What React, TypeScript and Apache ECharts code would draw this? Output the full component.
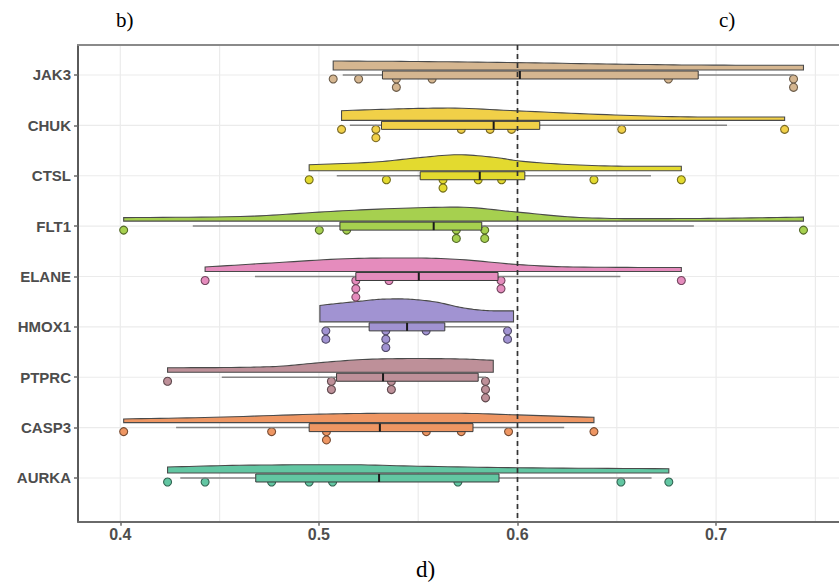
import React, { useEffect, useRef } from "react";
import * as echarts from "echarts";

// Genes from bottom (index 0) to top (index 8)
const genes = ["AURKA", "CASP3", "PTPRC", "HMOX1", "ELANE", "FLT1", "CTSL", "CHUK", "JAK3"];
const geneColors = ["#62C6A2", "#EE9663", "#BE9099", "#A193D2", "#E58CBD", "#A6D04F", "#E3DA2F", "#F1D048", "#D5B690"];

// Individual sample values (dots)
const pointsAURKA = [0.4238, 0.4427, 0.4762, 0.4951, 0.5069, 0.5700, 0.6521, 0.6762];
const pointsCASP3 = [0.4017, 0.4762, 0.5038, 0.5038, 0.5541, 0.5717, 0.5955, 0.6385];
const pointsPTPRC = [0.4238, 0.5063, 0.5063, 0.5365, 0.5365, 0.5839, 0.5839, 0.5839];
const pointsHMOX1 = [0.5035, 0.5035, 0.5337, 0.5337, 0.5337, 0.5540, 0.5950, 0.5950];
const pointsELANE = [0.4427, 0.5186, 0.5186, 0.5186, 0.5353, 0.5917, 0.5917, 0.6825];
const pointsFLT1 = [0.4017, 0.5002, 0.5140, 0.5692, 0.5692, 0.5835, 0.5835, 0.7440];
const pointsCTSL = [0.4951, 0.5340, 0.5625, 0.5625, 0.5802, 0.5920, 0.6385, 0.6825];
const pointsCHUK = [0.5114, 0.5287, 0.5287, 0.5717, 0.5862, 0.5970, 0.6525, 0.7345];
const pointsJAK3 = [0.5072, 0.5200, 0.5390, 0.5390, 0.5570, 0.6760, 0.7390, 0.7390];
const points = [pointsAURKA, pointsCASP3, pointsPTPRC, pointsHMOX1, pointsELANE, pointsFLT1, pointsCTSL, pointsCHUK, pointsJAK3];

// Box plot statistics
const whiskerLow = [0.4302, 0.4281, 0.4511, 0.5030, 0.4678, 0.4365, 0.5090, 0.5156, 0.5120];
const quartile1 = [0.4682, 0.4951, 0.5089, 0.5253, 0.5186, 0.5106, 0.5510, 0.5315, 0.5320];
const medians = [0.5303, 0.5307, 0.5323, 0.5444, 0.5503, 0.5578, 0.5810, 0.5880, 0.6012];
const quartile3 = [0.5907, 0.5776, 0.5802, 0.5634, 0.5902, 0.5820, 0.6037, 0.6112, 0.6910];
const whiskerHigh = [0.6675, 0.6235, 0.5840, 0.5953, 0.6518, 0.6888, 0.6672, 0.7055, 0.7390];

// Half-violin density profiles (x positions, relative density)
const densX = [
  [0.4238, 0.4600, 0.5140, 0.5500, 0.6000, 0.6762],
  [0.4017, 0.4470, 0.4970, 0.5310, 0.5710, 0.6000, 0.6385],
  [0.4238, 0.4640, 0.4800, 0.5000, 0.5220, 0.5470, 0.5710, 0.5878],
  [0.5005, 0.5100, 0.5200, 0.5300, 0.5400, 0.5500, 0.5600, 0.5700, 0.5800, 0.5900, 0.5980],
  [0.4427, 0.4800, 0.5170, 0.5470, 0.5710, 0.6000, 0.6280, 0.6825],
  [0.4017, 0.4670, 0.5000, 0.5300, 0.5700, 0.6000, 0.6280, 0.6600, 0.7000, 0.7440],
  [0.4951, 0.5300, 0.5500, 0.5700, 0.5900, 0.6000, 0.6280, 0.6600, 0.6825],
  [0.5114, 0.5400, 0.5650, 0.6000, 0.6450, 0.6860, 0.7345],
  [0.5072, 0.5500, 0.6000, 0.6450, 0.6870, 0.7440],
];
const densY = [
  [6.0, 7.7, 8.3, 6.8, 5.3, 4.3],
  [3.7, 5.3, 8.3, 9.3, 9.3, 7.7, 5.3],
  [4.5, 5.0, 6.0, 9.5, 12.7, 13.7, 13.3, 12.0],
  [16.5, 18.5, 20.5, 22.5, 23.0, 22.0, 19.5, 15.0, 12.0, 11.0, 11.0],
  [4.5, 9.0, 13.0, 13.5, 12.0, 7.0, 4.5, 4.0],
  [3.5, 5.0, 9.0, 12.0, 14.0, 9.0, 4.0, 2.5, 2.8, 4.0],
  [6.0, 9.0, 13.0, 16.0, 13.0, 10.0, 6.0, 4.5, 4.5],
  [9.7, 11.5, 12.3, 9.5, 5.7, 3.5, 3.3],
  [9.0, 8.5, 7.4, 6.0, 5.0, 4.7],
];

const xTicks = [0.4, 0.5, 0.6, 0.7];
const xGridValues = [0.4, 0.45, 0.5, 0.55, 0.6, 0.65, 0.7, 0.75];
const referenceLine = 0.6;
const panelLabels = ["b)", "c)", "d)"];

// Layout constants (pixels / axis extents)
const X_MIN = 0.3787;
const X_MAX = 0.76491;
const Y_MIN = -0.8675;
const Y_MAX = 8.5955;
const VIOLIN_GAP = 5;
const BOX_HALF = 4;
const POINT_OFFSET = 4;
const STACK_STEP = 8.3;
const POINT_R = 4;

function darken(hex: string, f: number): string {
  const n = parseInt(hex.slice(1), 16);
  const r = Math.round(((n >> 16) & 255) * f);
  const g = Math.round(((n >> 8) & 255) * f);
  const b = Math.round((n & 255) * f);
  return `rgb(${r},${g},${b})`;
}

function smoothTop(pts: number[][], samples = 10): number[][] {
  const n = pts.length;
  if (n < 3) return pts;
  const xs = pts.map((p) => p[0]);
  const ys = pts.map((p) => p[1]);
  const d: number[] = [];
  const m: number[] = new Array(n).fill(0);
  for (let k = 0; k < n - 1; k++) d.push((ys[k + 1] - ys[k]) / (xs[k + 1] - xs[k] || 1));
  m[0] = d[0];
  m[n - 1] = d[n - 2];
  for (let k = 1; k < n - 1; k++) m[k] = d[k - 1] * d[k] <= 0 ? 0 : (d[k - 1] + d[k]) / 2;
  for (let k = 0; k < n - 1; k++) {
    if (d[k] === 0) {
      m[k] = 0;
      m[k + 1] = 0;
    } else {
      const a = m[k] / d[k];
      const b = m[k + 1] / d[k];
      const s = a * a + b * b;
      if (s > 9) {
        const t = 3 / Math.sqrt(s);
        m[k] = t * a * d[k];
        m[k + 1] = t * b * d[k];
      }
    }
  }
  const out: number[][] = [];
  for (let k = 0; k < n - 1; k++) {
    const h = xs[k + 1] - xs[k];
    for (let j = 0; j < samples; j++) {
      const t = j / samples;
      const t2 = t * t;
      const t3 = t2 * t;
      const h00 = 2 * t3 - 3 * t2 + 1;
      const h10 = t3 - 2 * t2 + t;
      const h01 = -2 * t3 + 3 * t2;
      const h11 = t3 - t2;
      out.push([xs[k] + t * h, h00 * ys[k] + h10 * h * m[k] + h01 * ys[k + 1] + h11 * h * m[k + 1]]);
    }
  }
  out.push([xs[n - 1], ys[n - 1]]);
  return out;
}

export default function App() {
  const ref = useRef<HTMLDivElement>(null);

  useEffect(() => {
    if (!ref.current) return;
    const chart = echarts.init(ref.current, null, { renderer: "svg" });

    const pointData: number[][] = [];
    points.forEach((vals, gi) => {
      const seen: Record<string, number> = {};
      vals.forEach((v) => {
        const key = v.toFixed(4);
        const s = seen[key] || 0;
        seen[key] = s + 1;
        pointData.push([v, gi, s]);
      });
    });

    const geneRows = genes.map((_, i) => [medians[i], i]);

    const option: any = {
      animation: false,
      grid: { left: 78, right: -6, top: 45, bottom: 63.3, containLabel: false, outerBoundsMode: "none" },
      xAxis: [
        {
          type: "value",
          min: X_MIN,
          max: X_MAX,
          position: "bottom",
          axisLine: { show: true, onZero: false, lineStyle: { color: "#6a6a6a", width: 2 } },
          axisTick: { show: true, customValues: xTicks, length: 4, lineStyle: { color: "#6a6a6a", width: 1.5 } },
          axisLabel: {
            customValues: xTicks,
            formatter: (v: number) => v.toFixed(1),
            color: "#4d4d4d",
            fontWeight: "bold",
            fontSize: 16,
            fontFamily: "Liberation Sans, Arial, sans-serif",
            margin: 5,
          },
          splitLine: { show: false },
        },
        {
          type: "value",
          min: X_MIN,
          max: X_MAX,
          position: "top",
          axisLine: { show: true, onZero: false, lineStyle: { color: "#8a8a8a", width: 2 } },
          axisTick: { show: false },
          axisLabel: { show: false },
          splitLine: { show: false },
        },
      ],
      yAxis: {
        type: "value",
        min: Y_MIN,
        max: Y_MAX,
        axisLine: { show: true, onZero: false, lineStyle: { color: "#5a5a5a", width: 2 } },
        axisTick: { show: true, customValues: genes.map((_, i) => i), length: 4, lineStyle: { color: "#6a6a6a", width: 1.5 } },
        axisLabel: {
          customValues: genes.map((_, i) => i),
          formatter: (v: number) => genes[Math.round(v)] ?? "",
          color: "#4d4d4d",
          fontWeight: "bold",
          fontSize: 15,
          fontFamily: "Liberation Sans, Arial, sans-serif",
          margin: 7,
        },
        splitLine: { show: false },
      },
      graphic: [
        { type: "text", left: 116, top: 9, style: { text: panelLabels[0], font: "21px 'Liberation Serif', serif", fill: "#000" } },
        { type: "text", left: 719, top: 9, style: { text: panelLabels[1], font: "21px 'Liberation Serif', serif", fill: "#000" } },
        { type: "text", left: 416, top: 558, style: { text: panelLabels[2], font: "23px 'Liberation Serif', serif", fill: "#000" } },
      ],
      series: [
        {
          type: "custom",
          name: "vgrid",
          silent: true,
          z: 0,
          data: xGridValues.map((v) => [v, 0]),
          renderItem: (params: any, api: any) => {
            const cs = params.coordSys;
            const x = api.coord([api.value(0), 0])[0];
            return {
              type: "line",
              shape: { x1: x, y1: cs.y, x2: x, y2: cs.y + cs.height },
              style: { stroke: "#ebebeb", lineWidth: 1.2 },
            };
          },
        },
        {
          type: "custom",
          name: "hgrid",
          silent: true,
          z: 0,
          data: geneRows,
          renderItem: (params: any, api: any) => {
            const cs = params.coordSys;
            const y = api.coord([api.value(0), api.value(1)])[1];
            return {
              type: "line",
              shape: { x1: cs.x, y1: y, x2: cs.x + cs.width, y2: y },
              style: { stroke: "#ebebeb", lineWidth: 1.2 },
            };
          },
        },
        {
          type: "custom",
          name: "violin",
          silent: true,
          z: 2,
          data: geneRows,
          renderItem: (params: any, api: any) => {
            const i = api.value(1);
            const xs = densX[i];
            const hs = densY[i];
            const cy = api.coord([xs[0], i])[1] - VIOLIN_GAP;
            const top = xs.map((x, k) => [api.coord([x, i])[0], cy - hs[k]]);
            const sm = smoothTop(top);
            const pts = [[top[0][0], cy], ...sm, [top[top.length - 1][0], cy]];
            return {
              type: "polygon",
              shape: { points: pts },
              style: { fill: geneColors[i], stroke: "#4a4a4a", lineWidth: 1.1 },
            };
          },
        },
        {
          type: "custom",
          name: "points",
          silent: true,
          z: 3,
          data: pointData,
          renderItem: (params: any, api: any) => {
            const gi = api.value(1);
            const s = api.value(2);
            const c = api.coord([api.value(0), gi]);
            return {
              type: "circle",
              shape: { cx: c[0], cy: c[1] + POINT_OFFSET + s * STACK_STEP, r: POINT_R },
              style: { fill: geneColors[gi], stroke: darken(geneColors[gi], 0.5), lineWidth: 1.1 },
            };
          },
        },
        {
          type: "custom",
          name: "box",
          silent: true,
          z: 4,
          data: geneRows,
          renderItem: (params: any, api: any) => {
            const i = api.value(1);
            const cy = api.coord([medians[i], i])[1];
            const xwl = api.coord([whiskerLow[i], i])[0];
            const xq1 = api.coord([quartile1[i], i])[0];
            const xm = api.coord([medians[i], i])[0];
            const xq3 = api.coord([quartile3[i], i])[0];
            const xwh = api.coord([whiskerHigh[i], i])[0];
            return {
              type: "group",
              children: [
                { type: "line", shape: { x1: xwl, y1: cy, x2: xq1, y2: cy }, style: { stroke: "#858585", lineWidth: 1.5 } },
                { type: "line", shape: { x1: xq3, y1: cy, x2: xwh, y2: cy }, style: { stroke: "#858585", lineWidth: 1.5 } },
                {
                  type: "rect",
                  shape: { x: xq1, y: cy - BOX_HALF, width: xq3 - xq1, height: 2 * BOX_HALF },
                  style: { fill: geneColors[i], stroke: "#3a3a3a", lineWidth: 1 },
                },
                { type: "line", shape: { x1: xm, y1: cy - BOX_HALF, x2: xm, y2: cy + BOX_HALF }, style: { stroke: "#1a1a1a", lineWidth: 2 } },
              ],
            };
          },
        },
        {
          type: "custom",
          name: "refline",
          silent: true,
          z: 5,
          data: [[referenceLine, 0]],
          renderItem: (params: any, api: any) => {
            const cs = params.coordSys;
            const x = api.coord([api.value(0), 0])[0];
            return {
              type: "line",
              shape: { x1: x, y1: cs.y, x2: x, y2: cs.y + cs.height },
              style: { stroke: "#333", lineWidth: 1.7, lineDash: [5, 4] },
            };
          },
        },
      ],
    };

    chart.setOption(option);
    return () => chart.dispose();
  }, []);

  return <div ref={ref} style={{ position: "absolute", left: 0, top: 0, width: 839, height: 585 }} />;
}
